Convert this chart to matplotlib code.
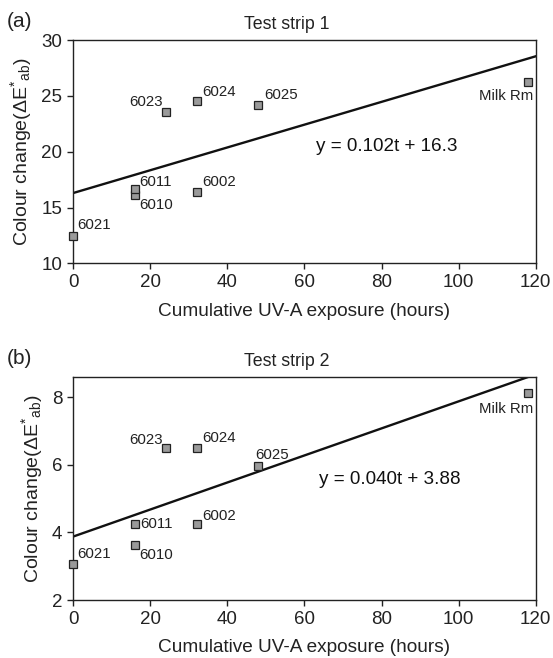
import matplotlib
matplotlib.use("Agg")
import matplotlib.pyplot as plt
import numpy as np

plt.rcParams['font.family'] = ['Liberation Sans', 'DejaVu Sans']
plt.rcParams['mathtext.fontset'] = 'custom'
plt.rcParams['mathtext.rm'] = 'Liberation Sans'
plt.rcParams['mathtext.it'] = 'Liberation Sans'

labels = ["6021", "6010", "6011", "6023", "6024", "6002", "6025", "Milk Rm"]
hours = [0, 16, 16, 24, 32, 32, 48, 118]
strip1 = [12.45, 16.1, 16.65, 23.55, 24.5, 16.4, 24.2, 26.25]
strip2 = [3.08, 3.62, 4.25, 6.49, 6.5, 4.24, 5.97, 8.12]
fit1 = (0.102, 16.3)
fit2 = (0.040, 3.88)
eq1 = "y = 0.102t + 16.3"
eq2 = "y = 0.040t + 3.88"

# label offsets in points (dx, dy, ha, va)
offs1 = {
    "6021": (3, 3, 'left', 'bottom'),
    "6010": (3, -2, 'left', 'top'),
    "6011": (3, 0, 'left', 'bottom'),
    "6023": (-2, 2, 'right', 'bottom'),
    "6024": (4, 2, 'left', 'bottom'),
    "6002": (4, 2, 'left', 'bottom'),
    "6025": (4, 2, 'left', 'bottom'),
    "Milk Rm": (4, -5, 'right', 'top'),
}
offs2 = {
    "6021": (3, 2, 'left', 'bottom'),
    "6010": (3, -2, 'left', 'top'),
    "6011": (4, 0, 'left', 'center'),
    "6023": (-2, 1, 'right', 'bottom'),
    "6024": (4, 2, 'left', 'bottom'),
    "6002": (4, 1, 'left', 'bottom'),
    "6025": (-2, 3, 'left', 'bottom'),
    "Milk Rm": (4, -6, 'right', 'top'),
}

fig = plt.figure(figsize=(5.53, 6.58), dpi=100)
ax1 = fig.add_axes([0.1326, 0.5998, 0.836, 0.3394])
ax2 = fig.add_axes([0.1326, 0.0881, 0.836, 0.3394])

def panel(ax, y, fit, eq, offs, ylim, yticks, title, tag, eqpos):
    t = np.array([0, 120])
    ax.plot(t, fit[0] * t + fit[1], color='#111111', lw=1.7, zorder=2, clip_on=True)
    ax.plot(hours, y, linestyle='none', marker='s', markersize=5.8,
            markerfacecolor='#9a9a9a', markeredgecolor='#222222', markeredgewidth=0.9,
            zorder=3, clip_on=False)
    for lab, x, yy in zip(labels, hours, y):
        dx, dy, ha, va = offs[lab]
        ax.annotate(lab, (x, yy), xytext=(dx, dy), textcoords='offset points',
                    ha=ha, va=va, fontsize=10.8, color='#222222')
    ax.text(eqpos[0], eqpos[1], eq, ha='left', va='center', fontsize=13.6, color='#111111')
    ax.set_xlim(0, 120)
    ax.set_ylim(*ylim)
    ax.set_xticks([0, 20, 40, 60, 80, 100, 120])
    ax.set_yticks(yticks)
    ax.tick_params(direction='out', length=4, width=1, labelsize=13.5, colors='#222222', pad=4)
    for s in ax.spines.values():
        s.set_linewidth(1.0)
        s.set_color('#222222')
    ax.set_xlabel("Cumulative UV-A exposure (hours)", fontsize=13.7, color='#222222', labelpad=8)
    ax.set_ylabel(r"Colour change($\Delta\mathregular{E}^{*}{}_{\mathregular{ab}}$)", fontsize=14,
                  color='#222222', labelpad=5)
    ax.text(0.462, 1.03, title, transform=ax.transAxes, ha='center', va='bottom',
            fontsize=12.8, color='#222222')
    fig.text(0.012, ax.get_position().y1 + 0.013, tag, fontsize=15, color='#222222',
             ha='left', va='bottom')

panel(ax1, strip1, fit1, eq1, offs1, (10, 30), [10, 15, 20, 25, 30], "Test strip 1", "(a)", (63, 20.5))
panel(ax2, strip2, fit2, eq2, offs2, (2, 8.61), [2, 4, 6, 8], "Test strip 2", "(b)", (63.8, 5.57))

fig.savefig("out.png", dpi=100)
